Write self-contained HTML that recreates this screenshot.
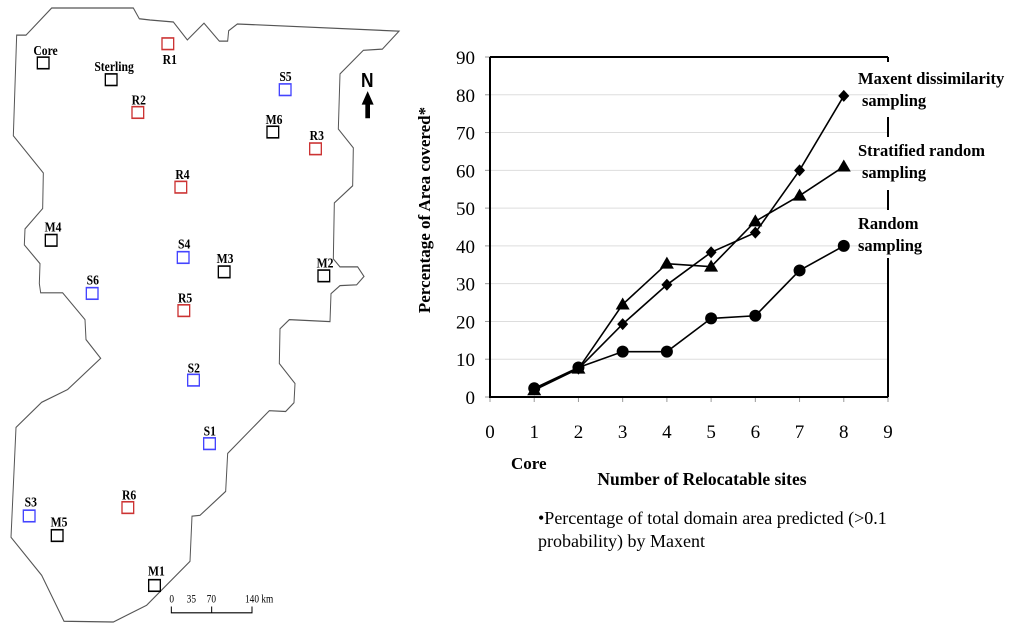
<!DOCTYPE html>
<html><head><meta charset="utf-8"><style>
html,body{margin:0;padding:0;background:#fff;}
svg{display:block;font-family:"Liberation Serif",serif;}
</style></head><body>
<svg width="1024" height="624" viewBox="0 0 1024 624" xmlns="http://www.w3.org/2000/svg">
<g transform="scale(0.33333,0.3995)">
<polygon fill="none" stroke="#555" stroke-width="3" points="50,88 78,88 155,20 400,20 418,47 450,50 520,55 562,100 612,58 658,103 683,103 686,77 712,60 1197,78 1147,123 1090,126 1020,185 1015,323 1060,370 1058,465 1003,508 1000,648 1020,668 1073,668 1092,692 1070,713 1020,715 993,735 990,805 868,800 840,823 838,910 885,960 882,1008 857,1030 808,1028 683,1135 677,1230 600,1290 576,1292 570,1405 440,1515 340,1557 192,1555 125,1440 33,1345 48,1070 125,1007 203,975 302,897 258,850 255,800 188,733 122,733 118,710 120,660 73,613 75,573 128,522 130,433 40,340 50,88"/>
<g id="sites" font-weight="bold" font-size="35" fill="#000"></g>
<text x="1083" y="218" font-family="Liberation Sans,sans-serif" font-weight="bold" font-size="52">N</text>
<polygon fill="#000" points="1103,228 1121,262 1110,262 1110,296 1096,296 1096,262 1085,262"/>
<g font-size="28">
<text x="508" y="1508">0</text><text x="560" y="1508">35</text><text x="620" y="1508">70</text><text x="735" y="1508">140 km</text>
<path d="M514 1518V1534H756V1518M635 1518V1534" fill="none" stroke="#000" stroke-width="3"/>
</g>
</g>
<g id="chart"></g>
<text transform="translate(430,210) rotate(-90)" text-anchor="middle" font-weight="bold" font-size="17">Percentage of Area covered*</text>
<text x="511" y="469" font-weight="bold" font-size="17">Core</text>
<text x="702" y="485" text-anchor="middle" font-weight="bold" font-size="17.5">Number of Relocatable sites</text>
<text x="538" y="524" font-size="18">•Percentage of total domain area predicted (&gt;0.1</text>
<text x="538" y="547" font-size="18">probability) by Maxent</text>
<g font-weight="bold" font-size="16.5">
<text x="858" y="84">Maxent dissimilarity</text>
<text x="862" y="106">sampling</text>
<text x="858" y="156">Stratified random</text>
<text x="862" y="178">sampling</text>
<text x="858" y="229">Random</text>
<text x="858" y="251">sampling</text>
<path d="M888 117V137M888 190V210M888 258V397M888 57V62" stroke="#000" stroke-width="2"/>
</g>
</svg>
<script>
const xTicks=[0,1,2,3,4,5,6,7,8,9];
const yTicks=[0,10,20,30,40,50,60,70,80,90];
const xs=[1,2,3,4,5,6,7,8];
const maxent=[2,7.5,19.3,29.7,38.3,43.5,60,79.7];
const stratified=[1.8,7.5,24.5,35.3,34.5,46.5,53.3,61];
const random=[2.3,7.8,12,12,20.8,21.5,33.5,40];
const sites=[["Core",112,143,"#000",100,138],["Sterling",316,185,"#000",283,178],["R1",486,95,"#c33",488,160],["R2",396,267,"#c33",395,262],["S5",838,210,"#44f",838,203],["M6",801,316,"#000",797,310],["R3",929,358,"#c33",929,350],["R4",525,454,"#c33",526,448],["M4",136,587,"#000",134,580],["S4",532,630,"#44f",534,622],["M3",655,666,"#000",650,658],["M2",954,676,"#000",950,669],["S6",259,720,"#44f",260,712],["R5",534,763,"#c33",534,757],["S2",563,937,"#44f",563,932],["S1",611,1096,"#44f",611,1090],["R6",366,1256,"#c33",366,1250],["S3",70,1277,"#44f",74,1268],["M5",154,1326,"#000",152,1318],["M1",446,1451,"#000",444,1440]];
const NS="http://www.w3.org/2000/svg";
function mk(t,a,p){const e=document.createElementNS(NS,t);for(const k in a)e.setAttribute(k,a[k]);p.appendChild(e);return e;}
const sg=document.getElementById('sites');
sites.forEach(s=>{
 const r=mk('rect',{x:s[1],y:s[2],width:35,height:29,fill:'none',stroke:s[3],'stroke-width':4},sg);
 
 
 const t=mk('text',{x:s[4],y:s[5]},sg);t.textContent=s[0];
 
 
});
const L=490,R=888,T=57,B=397;
const X=v=>L+(R-L)*v/9, Y=v=>B-(B-T)*v/90;
const g=document.getElementById('chart');
yTicks.forEach(v=>{
 if(v>0&&v<90){const l=mk('line',{x1:L,x2:R,y1:Y(v),y2:Y(v),stroke:'#ddd','stroke-width':1},g);
 }
 mk('line',{x1:L-5,x2:L,y1:Y(v),y2:Y(v),stroke:'#999'},g);
 const t=mk('text',{x:475,y:Y(v)+7,'text-anchor':'end','font-size':19},g);t.textContent=v;
 
});
xTicks.forEach(v=>{
 mk('line',{x1:X(v),x2:X(v),y1:B,y2:B+5,stroke:'#999'},g);
 const t=mk('text',{x:X(v),y:438,'text-anchor':'middle','font-size':19},g);t.textContent=v;
 
});
const ax=mk('path',{d:`M${L} ${T}H${R}M${L} ${T}V${B}H${R}`,fill:'none',stroke:'#000','stroke-width':2},g);

function series(vals,name,marker){
 const sg=mk('g',{},g);
 
 mk('polyline',{points:xs.map((x,i)=>X(x)+','+Y(vals[i])).join(' '),fill:'none',stroke:'#000','stroke-width':1.6},sg);
 xs.forEach((x,i)=>{const cx=X(x),cy=Y(vals[i]);let m;
  if(marker==='c')m=mk('circle',{cx,cy,r:6},sg);
  else if(marker==='d')m=mk('polygon',{points:`${cx},${cy-6} ${cx+5.5},${cy} ${cx},${cy+6} ${cx-5.5},${cy}`},sg);
  else m=mk('polygon',{points:`${cx},${cy-7} ${cx+7},${cy+5} ${cx-7},${cy+5}`},sg);
  });
}
series(random,'random','c');
series(stratified,'stratified','t');
series(maxent,'maxent','d');
</script>
</body></html>
